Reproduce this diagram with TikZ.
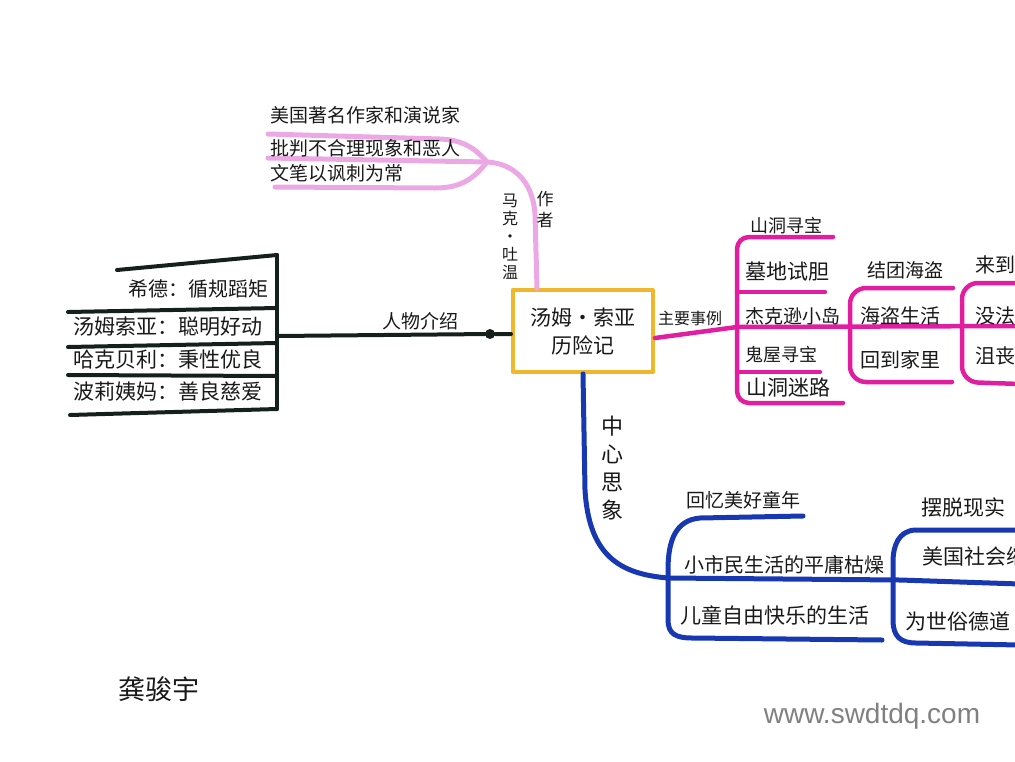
\documentclass[tikz,border=0pt]{standalone}
\usepackage{fontspec}
\setmainfont{Noto Sans CJK SC}
\newfontfamily\wmfont{Liberation Sans}
\definecolor{ink}{RGB}{25,25,25}
\definecolor{inkblk}{RGB}{22,32,26}
\definecolor{lpink}{RGB}{236,168,228}
\definecolor{mag}{RGB}{226,30,160}
\definecolor{blu}{RGB}{24,56,178}
\definecolor{yel}{RGB}{240,182,44}
\definecolor{wmgray}{RGB}{128,128,128}
\begin{document}
\begin{tikzpicture}[x=1pt,y=-1pt,line cap=round,line join=round,
  lnblack/.style={draw=inkblk,line width=4pt},
  lnpink/.style={draw=lpink,line width=5pt},
  lnmag/.style={draw=mag,line width=4.5pt},
  lnblue/.style={draw=blu,line width=5pt},
  txt/.style={inner sep=0pt,text=ink,font=\fontsize{19}{19}\selectfont},
  txtl/.style={txt,anchor=west},
  vtxt/.style={inner sep=0pt,text=ink,align=center}]
\useasboundingbox (0,0) rectangle (1015,761);
\clip (0,0) rectangle (1015,761);

% central title
\node[draw=yel,line width=4pt,minimum width=140pt,minimum height=82pt,
  align=center,text=ink,font=\fontsize{21}{28}\selectfont] (title) at (583,331) {汤姆·索亚\\历险记};

% ---------------- black: characters ----------------
\coordinate (lbT) at (277,255);
\coordinate (lbB) at (277,409);
\coordinate (lb) at (277,336);
\draw[lnblack] (lbT) -- (lbB);
\draw[lnblack] (117,270) -- (lbT);
\draw[lnblack] (68,312) -- (277,308);
\draw[lnblack] (68,347) -- (277,343);
\draw[lnblack] (68,375) -- (277,376);
\draw[lnblack] (70,415) -- (lbB);
\node[circle,fill=inkblk,inner sep=0pt,minimum size=10pt] (dot) at (490,334) {};
\draw[lnblack] (lb) -- (dot) -- (title.west |- dot);
\node[txt] (rwjs) at (420,321) {人物介绍};
\node[txt,font=\fontsize{20}{20}\selectfont] (xd) at (198,289) {希德：循规蹈矩};
\node[txtl,font=\fontsize{21}{21}\selectfont] (tmsy) at (73,327) {汤姆索亚：聪明好动};
\node[txtl,font=\fontsize{21}{21}\selectfont] (hkbl) at (73,359) {哈克贝利：秉性优良};
\node[txtl,font=\fontsize{21}{21}\selectfont] (blym) at (73,391) {波莉姨妈：善良慈爱};

% ---------------- light pink: author ----------------
\coordinate (pj) at (487,162);
\draw[lnpink] ([xshift=-46pt]title.north) -- (535,215) .. controls (533,178) and (510,163) .. (pj);
\draw[lnpink] (pj) .. controls (474,147) and (462,140) .. (440,139) -- (268,134);
\draw[lnpink] (pj) -- (268,158);
\draw[lnpink] (pj) .. controls (474,178) and (462,188) .. (435,188) -- (275,187);
\node[txtl] (a1) at (270,115) {美国著名作家和演说家};
\node[txtl] (a2) at (270,148) {批判不合理现象和恶人};
\node[txtl] (a3) at (270,173) {文笔以讽刺为常};
\node[vtxt,font=\fontsize{17}{21}\selectfont] (zz) at (545,210) {作\\者};
\node[vtxt,font=\fontsize{16}{18}\selectfont] (mktw) at (510,237) {马\\克\\·\\吐\\温};

% ---------------- magenta: main events ----------------
\coordinate (m1) at (737,327);
\draw[lnmag] ([yshift=-7pt]title.east) -- (m1) -- (1020,326);
\draw[lnmag,rounded corners=12pt] (833,237) -- (737,237) -- (737,403) -- (843,403);
\draw[lnmag] (737,292) -- (825,292);
\draw[lnmag] (737,372) -- (820,372);
\draw[lnmag,rounded corners=16pt] (953,288) -- (850,288) -- (850,382) -- (952,382);
\draw[lnmag,rounded corners=16pt] (1020,283) -- (962,283) -- (962,382) -- (1020,384);
\node[txt,font=\fontsize{16}{16}\selectfont] (zysl) at (690,318) {主要事例};
\node[txt,font=\fontsize{18}{18}\selectfont] (e0) at (786,226) {山洞寻宝};
\node[txtl,font=\fontsize{21}{21}\selectfont] (e1) at (745,272) {墓地试胆};
\node[txtl] (e2) at (745,316) {杰克逊小岛};
\node[txtl,font=\fontsize{18}{18}\selectfont] (e3) at (745,355) {鬼屋寻宝};
\node[txtl,font=\fontsize{21}{21}\selectfont] (e4) at (746,388) {山洞迷路};
\node[txt] (f0) at (905,270) {结团海盗};
\node[txtl,font=\fontsize{20}{20}\selectfont] (f1) at (860,316) {海盗生活};
\node[txtl,font=\fontsize{20}{20}\selectfont] (f2) at (860,360) {回到家里};
\node[txtl,font=\fontsize{20}{20}\selectfont] (g0) at (975,265) {来到};
\node[txtl,font=\fontsize{20}{20}\selectfont] (g1) at (975,316) {没法};
\node[txtl,font=\fontsize{20}{20}\selectfont] (g2) at (975,356) {沮丧};

% ---------------- blue: central idea ----------------
\coordinate (bj) at (668,578);
\draw[lnblue] (title.south) -- (585,490) .. controls (589,556) and (620,574) .. (bj) -- (900,580) -- (1020,584);
\draw[lnblue] (803,516) -- (700,518) .. controls (676,520) and (668,540) .. (668,570) -- (668,620)
  .. controls (668,634) and (676,638) .. (692,638) -- (882,640);
\draw[lnblue] (1020,530) -- (915,530) .. controls (899,531) and (893,545) .. (893,562) -- (893,620)
  .. controls (893,636) and (900,643) .. (916,643) -- (1020,645);
\node[vtxt,font=\fontsize{22}{28}\selectfont] (zxsx) at (612,468) {中\\心\\思\\象};
\node[txt] (h0) at (743,500) {回忆美好童年};
\node[txtl,font=\fontsize{20}{20}\selectfont] (h1) at (684,565) {小市民生活的平庸枯燥};
\node[txtl,font=\fontsize{21}{21}\selectfont] (h2) at (680,615) {儿童自由快乐的生活};
\node[txtl,font=\fontsize{21}{21}\selectfont] (k0) at (921,507) {摆脱现实};
\node[txtl,font=\fontsize{21}{21}\selectfont] (k1) at (922,556) {美国社会缩};
\node[txtl,font=\fontsize{21}{21}\selectfont] (k2) at (905,621) {为世俗德道};

% ---------------- signature & watermark ----------------
\node[txt,font=\fontsize{27}{27}\selectfont] (sig) at (159,689) {龚骏宇};
\node[inner sep=0pt,text=wmgray,font=\wmfont\fontsize{28}{28}\selectfont] (wm) at (872,716) {www.swdtdq.com};
\end{tikzpicture}
\end{document}
